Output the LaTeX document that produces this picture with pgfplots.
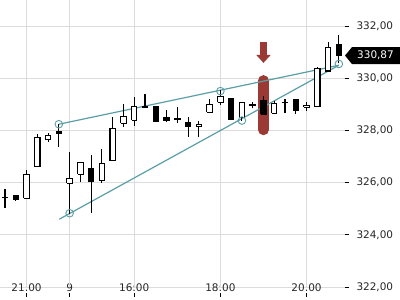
\documentclass[border=0pt]{standalone}
\usepackage{fontspec}
\setmainfont{DejaVu Sans}
\usepackage{pgfplots}
\pgfplotsset{compat=1.18}
\usetikzlibrary{arrows.meta}
\definecolor{gridc}{RGB}{220,220,220}
\definecolor{trendc}{RGB}{90,158,166}
\definecolor{markc}{RGB}{155,58,52}
% index, low, body bottom, body top, high, fill
\newcommand{\candle}[6]{%
  \pgfmathsetmacro\xl{#1-0.25}\pgfmathsetmacro\xr{#1+0.25}%
  \edef\tmp{\noexpand\addplot[black, line width=1.1bp, forget plot] coordinates {(#1,#2) (#1,#5)};
  \noexpand\addplot[draw=black, fill=#6, line width=1.1bp, line join=miter, forget plot]
     coordinates {(\xl,#3) (\xr,#3) (\xr,#4) (\xl,#4) (\xl,#3)};}%
  \tmp}
\begin{document}
\begin{tikzpicture}
\begin{axis}[at={(0,3bp)}, anchor=south west, scale only axis,
  width=345bp, height=297bp,
  xmin=-0.464, xmax=31.57, ymin=321.62, ymax=333,
  clip=false,
  axis line style={draw=none},
  xtick={2,6,12,20,28}, xticklabels={21:00,9,16:00,18:00,20:00},
  ytick={322,324,326,328,330,332},
  xtick pos=left, ytick pos=right,
  xtick align=inside, ytick align=outside,
  major tick length=4bp,
  tick style={black, line width=1.1bp},
  ymajorgrids, grid style={gridc, line width=1bp},
  tick label style={font=\fontsize{10.5}{12}\selectfont, text=black!85},
  xticklabel style={anchor=base, yshift=6bp},
  yticklabel style={anchor=west, xshift=4bp, /pgf/number format/.cd, fixed, fixed zerofill,
    precision=2, use comma, 1000 sep={}, assume math mode=true},
]
\pgfplotsinvokeforeach{2,6,12,20,28}{\draw[gridc, line width=1bp] (axis cs:#1,322) -- (axis cs:#1,333);}
% highlight bar
\addplot[markc, line width=11bp, line cap=round] coordinates {(24,328.03) (24,329.91)};
% trend lines
\addplot[trendc, line width=1.2bp] coordinates {(5,328.24) (31,330.5)};
\addplot[trendc, line width=1.2bp] coordinates {(5.04,324.60) (31,330.5)};
% candles
\candle{0}{325.04}{325.42}{325.44}{325.75}{white}
\candle{1}{325.30}{325.34}{325.49}{325.53}{black}
\candle{2}{325.40}{325.40}{326.32}{326.49}{white}
\candle{3}{326.61}{326.61}{327.74}{327.85}{white}
\candle{4}{327.57}{327.66}{327.80}{327.92}{white}
\candle{5}{327.38}{327.89}{327.95}{328.25}{black}
\candle{6}{324.80}{325.98}{326.17}{327.19}{white}
\candle{7}{326.04}{326.33}{326.78}{326.78}{white}
\candle{8}{324.83}{326.04}{326.55}{327.06}{black}
\candle{9}{325.98}{326.08}{326.74}{327.28}{white}
\candle{10}{326.84}{326.84}{328.08}{328.51}{white}
\candle{11}{328.15}{328.28}{328.53}{329.00}{white}
\candle{12}{328.18}{328.39}{328.91}{329.27}{white}
\candle{13}{328.88}{328.88}{328.92}{329.39}{white}
\candle{14}{328.34}{328.34}{328.91}{328.95}{black}
\candle{15}{328.34}{328.37}{328.50}{328.79}{black}
\candle{16}{328.30}{328.43}{328.45}{328.89}{white}
\candle{17}{327.76}{328.15}{328.31}{328.51}{black}
\candle{18}{327.74}{328.15}{328.24}{328.36}{white}
\candle{19}{328.70}{328.70}{329.00}{329.21}{white}
\candle{20}{328.97}{329.08}{329.30}{329.55}{white}
\candle{21}{328.43}{328.43}{329.21}{329.21}{black}
\candle{22}{328.38}{328.51}{329.08}{329.08}{white}
\candle{23}{328.85}{328.97}{328.99}{329.10}{white}
\candle{24}{328.62}{328.62}{329.13}{329.32}{black}
\candle{25}{328.66}{328.66}{329.04}{329.13}{white}
\candle{26}{328.68}{329.06}{329.08}{329.22}{white}
\candle{27}{328.62}{328.75}{329.17}{329.17}{black}
\candle{28}{328.75}{328.89}{328.97}{329.09}{white}
\candle{29}{328.91}{328.91}{330.38}{330.44}{white}
\candle{30}{330.28}{330.28}{331.17}{331.39}{white}
\candle{31}{330.57}{330.87}{331.28}{331.66}{black}
% touch points
\addplot[only marks, mark=o, mark size=3.8bp, trendc, line width=0.9bp]
  coordinates {(5,328.24) (20,329.51) (6,324.83) (22,328.38) (31,330.55)};
% arrow
\draw[markc, line width=6.5bp, -{Triangle[width=14bp,length=8bp]}] (axis cs:24,331.39) -- (axis cs:24,330.59);
\coordinate (pl) at (axis cs:31.57,330.87);
\end{axis}
% last price label
\fill[black] (pl) -- ++(7bp,8.5bp) -- ++(48bp,0) -- ++(0,-17bp) -- ++(-48bp,0) -- cycle;
\node[white, font=\fontsize{10.5}{12}\selectfont, xshift=30.5bp] at (pl) {330,87};
\pgfresetboundingbox
\path[use as bounding box] (0,0) rectangle (400bp,300bp);
\end{tikzpicture}
\end{document}
